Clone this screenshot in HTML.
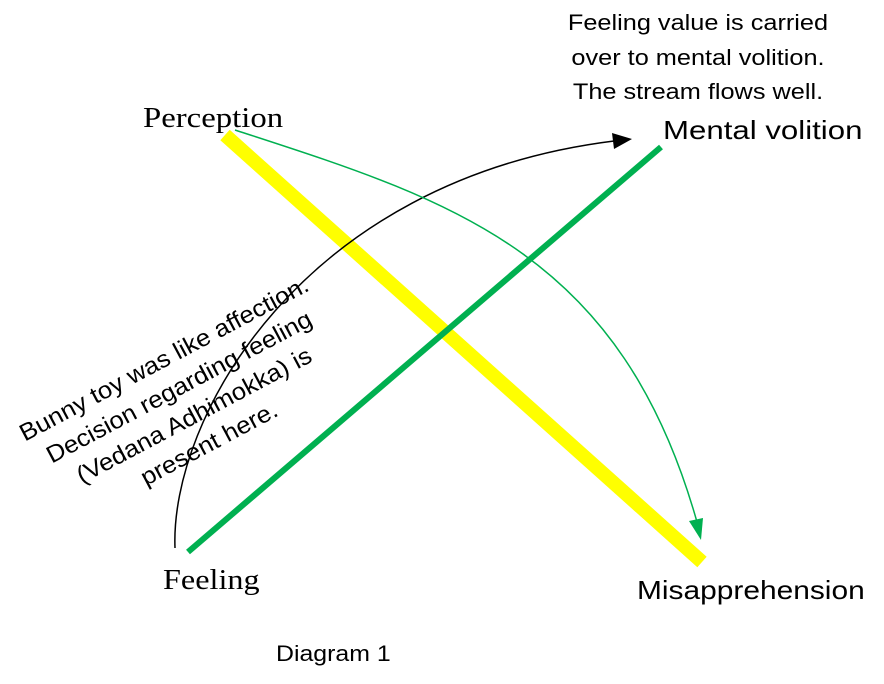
<!DOCTYPE html>
<html><head><style>
html,body{margin:0;padding:0;background:#fff;}
body{width:884px;height:684px;position:relative;overflow:hidden;}
.t{position:absolute;white-space:nowrap;color:#000;transform-origin:left top;}
.sans{font-family:"Liberation Sans",sans-serif;}
.serif{font-family:"Liberation Serif",serif;}
</style></head><body>
<svg width="884" height="684" style="position:absolute;left:0;top:0">
<line x1="225" y1="135" x2="702" y2="562" stroke="#ffff00" stroke-width="14"/>
<line x1="188" y1="552" x2="661" y2="147" stroke="#00b050" stroke-width="6"/>
<path d="M175,548 C170,420 300,180 614,141" fill="none" stroke="#000" stroke-width="1.5"/>
<polygon points="632,139 612,133 614,149" fill="#000"/>
<path d="M235,130 C450,200 620,250 697,522" fill="none" stroke="#00b050" stroke-width="1.5"/>
<polygon points="701,540 689,521 703,518" fill="#00b050"/>
</svg>
<div class="t serif" style="left:143px;top:103px;font-size:28px;transform:scaleX(1.17);">Perception</div>
<div class="t sans" style="left:663px;top:115px;font-size:26px;transform:scaleX(1.2);">Mental volition</div>
<div class="t serif" style="left:163px;top:565px;font-size:28px;transform:scaleX(1.15);">Feeling</div>
<div class="t sans" style="left:637px;top:575px;font-size:26px;transform:scaleX(1.15);">Misapprehension</div>
<div class="t sans" style="left:276px;top:641px;font-size:22px;transform:scaleX(1.13);">Diagram 1</div>
<div class="t sans" style="left:537px;top:6px;width:280px;text-align:center;font-size:22px;line-height:34.5px;transform:scaleX(1.15);">Feeling value is carried<br>over to mental volition.<br>The stream flows well.</div>
<div class="t sans" style="left:12px;top:338px;width:350px;text-align:center;font-size:24px;line-height:32px;transform:rotate(-28deg) scaleX(1.07);transform-origin:center;">Bunny toy was like affection.<br>Decision regarding feeling<br>(Vedana Adhimokka) is<br>present here.</div>
</body></html>
